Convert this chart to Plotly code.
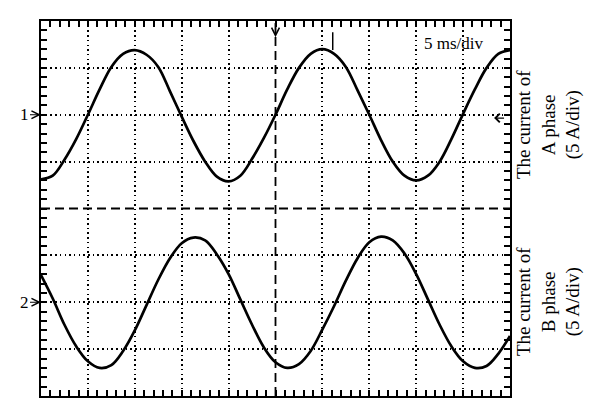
import plotly.graph_objects as go

# time axis (ms), 5 ms/div, 10 divisions
t_ms = [i * 1.25 for i in range(41)]

# phase A current (A)
current_a = [-6.9, -6.5, -4.8, -2.6, 0.0, 2.7, 5.1, 6.5, 6.9, 6.4,
             5.1, 2.5, -0.2, -2.8, -5.0, -6.6, -7.1, -6.5, -4.7, -2.5,
             0.0, 2.7, 5.0, 6.5, 7.0, 6.5, 5.1, 2.6, 0.0, -2.7,
             -5.0, -6.5, -7.0, -6.5, -5.0, -2.6, 0.1, 2.7, 5.0, 6.5, 6.9]

# phase B current (A)
current_b = [2.9, 0.4, -2.4, -4.7, -6.3, -7.0, -6.7, -5.2, -3.0, -0.3,
             2.4, 4.7, 6.3, 6.9, 6.6, 5.1, 3.0, 0.3, -2.4, -4.8,
             -6.4, -7.0, -6.6, -5.2, -2.9, -0.4, 2.3, 4.7, 6.4, 7.0,
             6.6, 5.2, 3.0, 0.3, -2.4, -4.7, -6.3, -7.0, -6.8, -5.5, -3.6]

# short glitch on phase A near its second peak
glitch_t = [31.1, 31.1]
glitch_a = [6.9, 8.8]

amps_per_div = 5.0
offset_a = 2.0   # channel 1 marker (divisions)
offset_b = -2.0  # channel 2 marker (divisions)
trigger_t = 25.0
trigger_level = 1.93

grid_x = [5, 10, 15, 20, 30, 35, 40, 45]
grid_y = [-3, -2, -1, 1, 2, 3]

ya = [offset_a + v / amps_per_div for v in current_a]
yb = [offset_b + v / amps_per_div for v in current_b]
yg = [offset_a + v / amps_per_div for v in glitch_a]

line_style = dict(color="black", width=2.7, shape="spline", smoothing=1)

fig = go.Figure()
fig.add_trace(go.Scatter(x=t_ms, y=ya, mode="lines", line=line_style, hoverinfo="skip"))
fig.add_trace(go.Scatter(x=t_ms, y=yb, mode="lines", line=line_style, hoverinfo="skip"))
fig.add_trace(go.Scatter(x=glitch_t, y=yg, mode="lines",
                         line=dict(color="black", width=1.5), hoverinfo="skip"))
fig.add_trace(go.Scatter(x=[None], y=[None], xaxis="x2", yaxis="y2",
                         mode="lines", hoverinfo="skip"))

frame_axis = dict(
    showgrid=False, zeroline=False, showline=True, linewidth=2, linecolor="black",
    mirror="ticks", ticks="inside", ticklen=6, tickwidth=1.5, tickcolor="black",
    showticklabels=False, fixedrange=True,
)
grid_axis = dict(
    showgrid=True, gridcolor="black", gridwidth=1.5, griddash="1.5px,3.2px",
    zeroline=False, showline=False, ticks="", showticklabels=False, fixedrange=True,
    tickmode="array",
)

fig.update_layout(
    width=600, height=417,
    margin=dict(l=41, r=90, t=21, b=21),
    paper_bgcolor="white", plot_bgcolor="white",
    showlegend=False,
    xaxis=dict(range=[0, 50], tickmode="linear", tick0=0, dtick=5,
               minor=dict(dtick=1, ticks="inside", ticklen=6, tickwidth=1.5,
                          tickcolor="black", showgrid=False),
               **frame_axis),
    yaxis=dict(range=[-4, 4], tickmode="linear", tick0=0, dtick=1,
               minor=dict(dtick=0.2, ticks="inside", ticklen=6, tickwidth=1.5,
                          tickcolor="black", showgrid=False),
               **frame_axis),
    xaxis2=dict(range=[0, 50], overlaying="x", anchor="y", tickvals=grid_x, **grid_axis),
    yaxis2=dict(range=[-4, 4], overlaying="y", anchor="x", tickvals=grid_y, **grid_axis),
)

# center dashed lines
fig.add_shape(type="line", xref="x", yref="y", x0=25, x1=25, y0=-4, y1=4,
              line=dict(color="black", width=1.8, dash="9px,5px"), layer="below")
fig.add_shape(type="line", xref="x", yref="y", x0=0, x1=50, y0=0, y1=0,
              line=dict(color="black", width=1.8, dash="9px,5px"), layer="below")

serif = "Liberation Serif"
fig.add_annotation(text="5 ms/div", xref="x", yref="y", x=40.6, y=3.53,
                   xanchor="left", yanchor="middle", showarrow=False,
                   font=dict(family=serif, size=17, color="black"))

# channel markers "1→" and "2→"
for lbl, off in (("1", offset_a), ("2", offset_b)):
    fig.add_annotation(text=lbl, xref="paper", yref="y", x=0, y=off,
                       showarrow=True, ax=-17, ay=0, arrowhead=5, arrowsize=1.4,
                       arrowwidth=1.1, arrowcolor="black", standoff=0, startstandoff=0,
                       font=dict(family=serif, size=17, color="black"))

# trigger position arrow at top
fig.add_annotation(text=" ", xref="x", yref="paper", x=trigger_t, y=0.957,
                   showarrow=True, ax=0, ay=-16, arrowhead=5, arrowsize=1.4,
                   arrowwidth=1.1, arrowcolor="black", standoff=0,
                   font=dict(size=2))

# trigger level arrow at right
fig.add_annotation(text=" ", xref="paper", yref="y", x=0.966, y=trigger_level,
                   showarrow=True, ax=12, ay=0, arrowhead=4, arrowsize=1.3,
                   arrowwidth=1.3, arrowcolor="black", standoff=0,
                   font=dict(size=2))

fig.add_annotation(text="The current of<br>A phase<br>(5 A/div)", xref="paper", yref="paper",
                   x=1.081, y=0.725, xanchor="center", yanchor="middle",
                   textangle=-90, showarrow=False,
                   font=dict(family=serif, size=19, color="black"))
fig.add_annotation(text="The current of<br>B phase<br>(5 A/div)", xref="paper", yref="paper",
                   x=1.081, y=0.253, xanchor="center", yanchor="middle",
                   textangle=-90, showarrow=False,
                   font=dict(family=serif, size=19, color="black"))

fig.write_html("out.html", config={"displayModeBar": False},
               post_script="document.body.style.margin='0';")
